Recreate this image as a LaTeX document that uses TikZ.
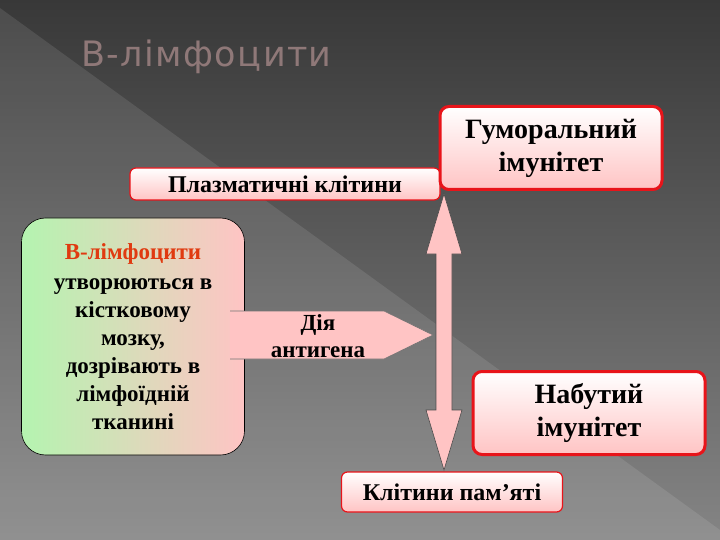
\documentclass[tikz,border=0pt]{standalone}
\usepackage{fontspec}
\setmainfont{Liberation Serif}
\newfontfamily\titlefont[LetterSpace=4]{DejaVu Sans}
\usetikzlibrary{shadings}
\definecolor{boxred}{HTML}{E8141A}
\definecolor{pinkf}{HTML}{FFC4C4}
\definecolor{greenf}{HTML}{B4F4B0}
\tikzset{
  redbox/.style={draw=boxred, rounded corners=6pt, top color=white, bottom color=pinkf, align=center, font=\bfseries, text=black},
  thin/.style={redbox, line width=1.2pt},
  thick/.style={redbox, line width=3pt, rounded corners=9pt},
}
\begin{document}
\begin{tikzpicture}[x=1pt,y=-1pt]
\useasboundingbox (0,0) rectangle (720,540);
\shade[top color=black!78, bottom color=black!48] (0,0) rectangle (720,540);
\fill[white, opacity=0.10] (0,8) -- (720,530) -- (720,540) -- (0,540) -- cycle;
\node[anchor=west, text=black!40!pink!60!gray, font=\titlefont\fontsize{35}{35}\selectfont] (title) at (78,57) {В-лімфоцити};
% boxes
\node[thin, minimum width=310pt, minimum height=32pt, font=\bfseries\fontsize{24}{26}\selectfont] (plasma) at (285,184) {Плазматичні клітини};
\node[thick, minimum width=222pt, minimum height=83pt, font=\bfseries\fontsize{28}{33}\selectfont] (hum) at (551,148) {Гуморальний\\імунітет};
\node[thick, minimum width=232pt, minimum height=83pt, font=\bfseries\fontsize{28}{33}\selectfont] (acq) at (589,413) {Набутий\\імунітет};
\node[thin, minimum width=221pt, minimum height=40pt, font=\bfseries\fontsize{24}{26}\selectfont] (mem) at (452,492) {Клітини пам’яті};
\node[draw=black, line width=0.6pt, rounded corners=24pt, left color=greenf, right color=pinkf, minimum width=223pt, minimum height=237pt, align=center, font=\bfseries\fontsize{23}{28}\selectfont] (blym) at (133,336.5)
 {{\color[HTML]{E03A10}В-лімфоцити}\\[2pt]утворюються в\\кістковому\\мозку,\\дозрівають в\\лімфоїдній\\тканині};
% antigen arrow
\coordinate (tip) at (433,335);
\fill[pinkf] (230,311) -- (384,311) -- (tip) -- (384,359) -- (230,359) -- cycle;
\draw[black!55, line width=0.6pt] (230,311) -- (384,311) -- (tip) -- (384,359) -- (230,359);
\node[font=\bfseries\fontsize{23}{27}\selectfont, align=center] (ag) at (318,336) {Дія\\антигена};
% vertical double arrow
\coordinate (top) at (444,194);
\coordinate (bot) at (444,470);
\draw[fill=pinkf, draw=black!70, line width=0.6pt] (top) -- (462,254) -- (452,254) -- (452,410) -- (462,410) -- (bot) -- (426,410) -- (436,410) -- (436,254) -- (426,254) -- cycle;
\end{tikzpicture}
\end{document}
